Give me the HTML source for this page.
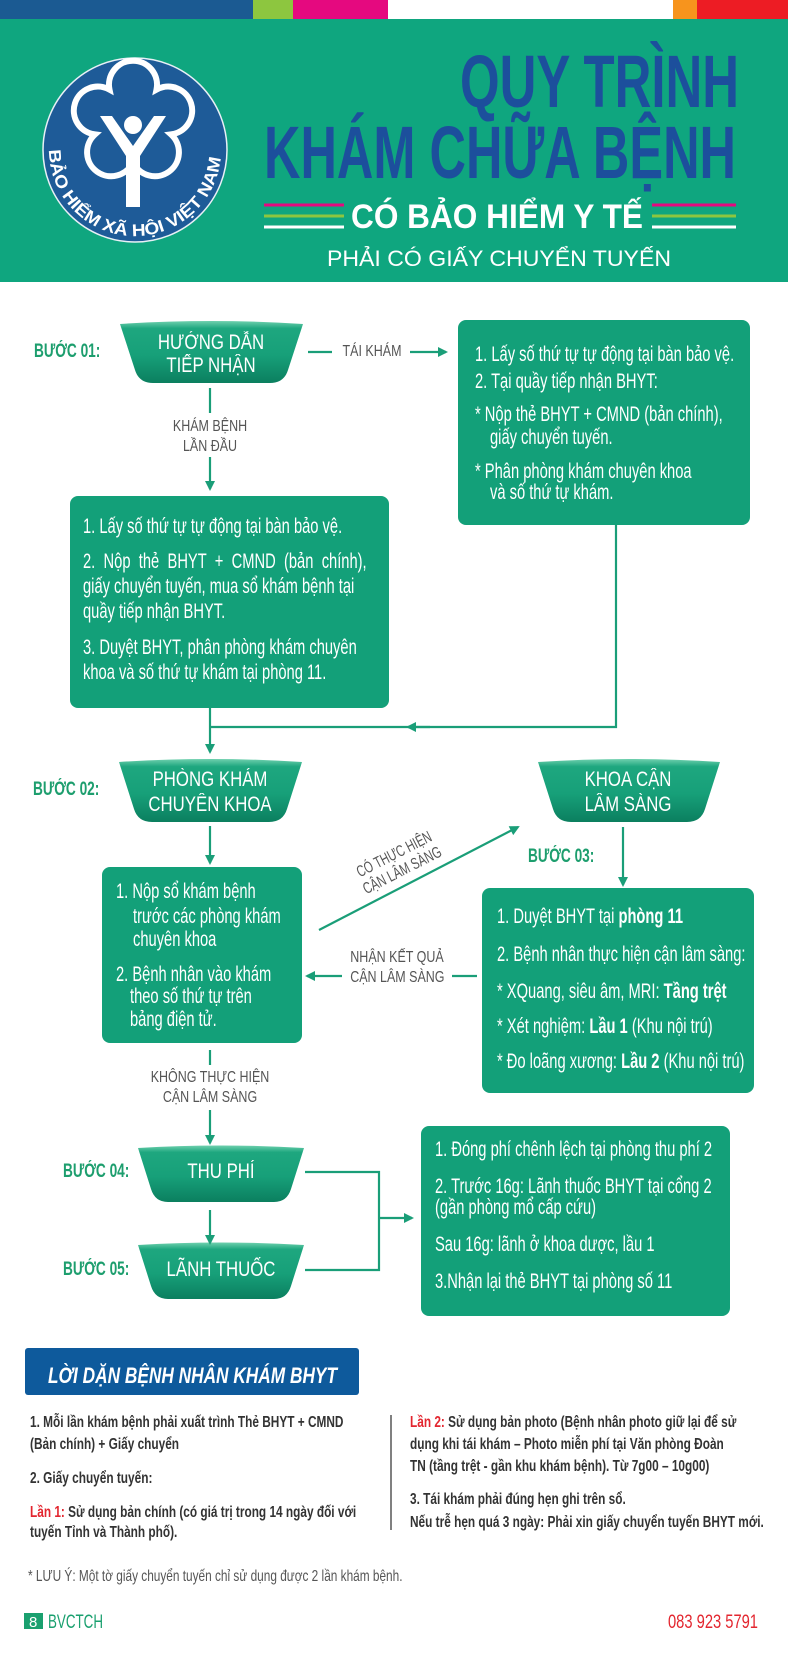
<!DOCTYPE html>
<html><head><meta charset="utf-8">
<style>
*{margin:0;padding:0;box-sizing:border-box}
body{width:788px;height:1654px;position:relative;background:#fff;overflow:hidden;font-family:"Liberation Sans","DejaVu Sans",sans-serif}
svg{position:absolute;left:0;top:0}
.t{position:absolute;white-space:nowrap;transform:scaleX(.7);transform-origin:0 50%;color:#fff;font-size:21px;line-height:20px}
.g{position:absolute;white-space:nowrap;transform:scaleX(.78);transform-origin:50% 50%;color:#555;font-size:16px;line-height:16px;text-align:center}
.s{position:absolute;white-space:nowrap;transform:scaleX(.72);transform-origin:0 50%;color:#1d9e6e;font-size:19px;font-weight:bold;line-height:20px}
.b{position:absolute;white-space:nowrap;transform:scaleX(.8);transform-origin:50% 50%;color:#fff;font-size:21px;line-height:22px;text-align:center}
.n{position:absolute;white-space:nowrap;transform:scaleX(.74);transform-origin:0 50%;color:#333;font-size:16px;font-weight:bold;line-height:18px}
.r{color:#e3262f}
</style></head><body>
<svg width="788" height="1654" viewBox="0 0 788 1654">
<defs>
<linearGradient id="bw" x1="0" y1="0" x2="0" y2="1">
<stop offset="0" stop-color="#6fd0ae"/><stop offset="0.12" stop-color="#1ea77f"/><stop offset="0.55" stop-color="#17a079"/><stop offset="1" stop-color="#0b7f5f"/>
</linearGradient>
<marker id="ah" markerWidth="10" markerHeight="10" refX="8" refY="5" orient="auto" markerUnits="userSpaceOnUse"><path d="M0,0 L10,5 L0,10 Z" fill="#1a9e78"/></marker>
</defs>
<rect x="0" y="0" width="253" height="19" fill="#1b5a92"/>
<rect x="253" y="0" width="40" height="19" fill="#8dc63f"/>
<rect x="293" y="0" width="95" height="19" fill="#e5097f"/>
<rect x="388" y="0" width="285" height="19" fill="#fff"/>
<rect x="673" y="0" width="24" height="19" fill="#f7941d"/>
<rect x="697" y="0" width="91" height="19" fill="#ed1c24"/>
<rect x="0" y="19" width="788" height="263" fill="#0fa67f"/>
<circle cx="135" cy="150" r="92" fill="#1e5b98" stroke="#e8f0f6" stroke-width="1.5"/>
<path d="M156.5,89.6 A24,24 0 1 1 171,134.4 A24,24 0 1 1 133,162 A24,24 0 1 1 95,134.4 A24,24 0 1 1 109.5,89.6 A24,24 0 1 1 156.5,89.6 Z" fill="none" stroke="#fff" stroke-width="6"/>
<circle cx="133" cy="125" r="9" fill="#fff"/>
<path d="M100,116 L112,116 L133,146 L154,116 L166,116 L140,156 L140,207 L126,207 L126,156 Z" fill="#fff"/>
<path id="arc" d="M49,150 A86,86 0 0 0 221,150" fill="none"/>
<text font-size="17" font-weight="bold" fill="#fff" font-family="Liberation Sans, sans-serif"><textPath href="#arc" textLength="262" lengthAdjust="spacingAndGlyphs">BẢO HIỂM XÃ HỘI VIỆT NAM</textPath></text>
<text x="460" y="107" font-size="74" font-weight="bold" fill="#1c4f9c" textLength="279" lengthAdjust="spacingAndGlyphs">QUY TRÌNH</text>
<text x="264" y="178" font-size="74" font-weight="bold" fill="#1c4f9c" textLength="472" lengthAdjust="spacingAndGlyphs">KHÁM CHỮA BỆNH</text>
<g stroke-width="3">
<line x1="264" y1="205" x2="344" y2="205" stroke="#e5097f"/><line x1="264" y1="216" x2="344" y2="216" stroke="#8dc63f"/><line x1="264" y1="227" x2="344" y2="227" stroke="#fff"/>
<line x1="652" y1="205" x2="736" y2="205" stroke="#e5097f"/><line x1="652" y1="216" x2="736" y2="216" stroke="#8dc63f"/><line x1="652" y1="227" x2="736" y2="227" stroke="#fff"/>
</g>
<text x="351" y="228" font-size="34" font-weight="bold" fill="#fff" textLength="292" lengthAdjust="spacingAndGlyphs">CÓ BẢO HIỂM Y TẾ</text>
<text x="327" y="266" font-size="22" fill="#fff" textLength="344" lengthAdjust="spacingAndGlyphs">PHẢI CÓ GIẤY CHUYỂN TUYẾN</text>

<g fill="url(#bw)">
<path d="M120,324 Q211,318 303,324 L288,370 Q284,383 270,383 L153,383 Q139,383 135,370 Z"/>
<path d="M119,762 Q210,756 302,762 L287,809 Q283,822 269,822 L152,822 Q138,822 134,809 Z"/>
<path d="M538,762 Q629,756 720,762 L705,809 Q701,822 687,822 L571,822 Q557,822 553,809 Z"/>
<path d="M138,1148 Q221,1143 304,1148 L291,1189 Q287,1202 274,1202 L168,1202 Q155,1202 151,1189 Z"/>
<path d="M138,1245 Q221,1240 304,1245 L291,1286 Q287,1299 274,1299 L168,1299 Q155,1299 151,1286 Z"/>
</g>
<g fill="#13a079">
<rect x="458" y="320" width="292" height="205" rx="8"/>
<rect x="70" y="496" width="319" height="212" rx="8"/>
<rect x="102" y="867" width="200" height="176" rx="8"/>
<rect x="482" y="888" width="272" height="205" rx="8"/>
<rect x="421" y="1126" width="309" height="190" rx="8"/>
</g>
<g stroke="#1a9e78" stroke-width="2.2" fill="none">
<line x1="308" y1="352" x2="332" y2="352"/>
<line x1="410" y1="352" x2="446" y2="352" marker-end="url(#ah)"/>
<line x1="210" y1="388" x2="210" y2="413"/>
<line x1="210" y1="457" x2="210" y2="489" marker-end="url(#ah)"/>
<line x1="210" y1="708" x2="210" y2="752" marker-end="url(#ah)"/>
<polyline points="616,525 616,727 210,727"/>
<line x1="430" y1="727" x2="408" y2="727" marker-end="url(#ah)"/>
<line x1="210" y1="826" x2="210" y2="863" marker-end="url(#ah)"/>
<line x1="319" y1="930" x2="518" y2="827" marker-end="url(#ah)"/>
<line x1="623" y1="827" x2="623" y2="885" marker-end="url(#ah)"/>
<line x1="477" y1="976" x2="452" y2="976"/>
<line x1="342" y1="976" x2="307" y2="976" marker-end="url(#ah)"/>
<line x1="210" y1="1050" x2="210" y2="1065"/>
<line x1="210" y1="1110" x2="210" y2="1143" marker-end="url(#ah)"/>
<line x1="210" y1="1210" x2="210" y2="1243" marker-end="url(#ah)"/>
<polyline points="305,1172 379,1172 379,1270 305,1270"/>
<line x1="379" y1="1218" x2="412" y2="1218" marker-end="url(#ah)"/>
</g>
<g transform="rotate(-27 400 866)" fill="#555" font-size="16" text-anchor="middle">
<text x="400" y="858" textLength="82" lengthAdjust="spacingAndGlyphs">CÓ THỰC HIỆN</text>
<text x="400" y="876" textLength="86" lengthAdjust="spacingAndGlyphs">CẬN LÂM SÀNG</text>
</g>
<rect x="25" y="1348" width="334" height="47" rx="3" fill="#0e5a9c"/>
<text x="48" y="1383" font-size="22" font-weight="bold" font-style="italic" fill="#fff" textLength="289" lengthAdjust="spacingAndGlyphs">LỜI DẶN  BỆNH NHÂN KHÁM BHYT</text>
<line x1="391" y1="1415" x2="391" y2="1530" stroke="#555" stroke-width="1.5"/>
<rect x="24" y="1613" width="19" height="16" fill="#1aa06f"/>
<text x="29" y="1627" font-size="15" fill="#fff">8</text>
<text x="48" y="1628" font-size="19" fill="#1aa06f" textLength="55" lengthAdjust="spacingAndGlyphs">BVCTCH</text>
<text x="668" y="1628" font-size="19" fill="#e3262f" textLength="90" lengthAdjust="spacingAndGlyphs">083 923 5791</text>
</svg>

<div class="s" style="left:34px;top:342px">BƯỚC 01:</div>
<div class="s" style="left:33px;top:780px">BƯỚC 02:</div>
<div class="s" style="left:528px;top:847px">BƯỚC 03:</div>
<div class="s" style="left:63px;top:1162px">BƯỚC 04:</div>
<div class="s" style="left:63px;top:1260px">BƯỚC 05:</div>

<div class="b" style="left:131px;width:160px;top:332px">HƯỚNG DẪN</div>
<div class="b" style="left:131px;width:160px;top:355px">TIẾP NHẬN</div>
<div class="b" style="left:130px;width:160px;top:769px">PHÒNG KHÁM</div>
<div class="b" style="left:130px;width:160px;top:794px">CHUYÊN KHOA</div>
<div class="b" style="left:548px;width:160px;top:769px">KHOA CẬN</div>
<div class="b" style="left:548px;width:160px;top:794px">LÂM SÀNG</div>
<div class="b" style="left:141px;width:160px;top:1161px">THU PHÍ</div>
<div class="b" style="left:141px;width:160px;top:1259px">LÃNH THUỐC</div>

<div class="g" style="left:322px;width:100px;top:344px">TÁI KHÁM</div>
<div class="g" style="left:150px;width:120px;top:419px">KHÁM BỆNH</div>
<div class="g" style="left:150px;width:120px;top:439px">LẦN ĐẦU</div>
<div class="g" style="left:337px;width:120px;top:950px">NHẬN KẾT QUẢ</div>
<div class="g" style="left:337px;width:120px;top:970px">CẬN LÂM SÀNG</div>
<div class="g" style="left:130px;width:160px;top:1070px">KHÔNG THỰC HIỆN</div>
<div class="g" style="left:130px;width:160px;top:1090px">CẬN LÂM SÀNG</div>

<div class="t" style="left:475px;top:345px">1. Lấy số thứ tự tự động tại bàn bảo vệ.</div>
<div class="t" style="left:475px;top:372px">2. Tại quầy tiếp nhận BHYT:</div>
<div class="t" style="left:475px;top:405px">* Nộp thẻ BHYT + CMND (bản chính),</div>
<div class="t" style="left:490px;top:428px">giấy chuyển tuyến.</div>
<div class="t" style="left:475px;top:462px">* Phân phòng khám chuyên khoa</div>
<div class="t" style="left:490px;top:483px">và số thứ tự khám.</div>

<div class="t" style="left:83px;top:517px">1. Lấy số thứ tự tự động tại bàn bảo vệ.</div>
<div class="t" style="left:83px;top:552px;word-spacing:6px">2. Nộp thẻ BHYT + CMND (bản chính),</div>
<div class="t" style="left:83px;top:577px">giấy chuyển tuyến, mua sổ khám bệnh tại</div>
<div class="t" style="left:83px;top:602px">quầy tiếp nhận BHYT.</div>
<div class="t" style="left:83px;top:638px">3. Duyệt BHYT, phân phòng khám chuyên</div>
<div class="t" style="left:83px;top:663px">khoa và số thứ tự khám tại phòng 11.</div>

<div class="t" style="left:116px;top:882px">1. Nộp sổ khám bệnh</div>
<div class="t" style="left:133px;top:907px">trước các phòng khám</div>
<div class="t" style="left:133px;top:930px">chuyên khoa</div>
<div class="t" style="left:116px;top:965px">2. Bệnh nhân vào khám</div>
<div class="t" style="left:130px;top:987px">theo số thứ tự trên</div>
<div class="t" style="left:130px;top:1010px">bảng điện tử.</div>

<div class="t" style="left:497px;top:907px">1. Duyệt BHYT tại <b>phòng 11</b></div>
<div class="t" style="left:497px;top:945px">2. Bệnh nhân thực hiện cận lâm sàng:</div>
<div class="t" style="left:497px;top:982px">* XQuang, siêu âm, MRI: <b>Tầng trệt</b></div>
<div class="t" style="left:497px;top:1017px">* Xét nghiệm: <b>Lầu 1</b> (Khu nội trú)</div>
<div class="t" style="left:497px;top:1052px">* Đo loãng xương: <b>Lầu 2</b> (Khu nội trú)</div>

<div class="t" style="left:435px;top:1140px">1. Đóng phí chênh lệch tại phòng thu phí 2</div>
<div class="t" style="left:435px;top:1177px">2. Trước 16g: Lãnh thuốc BHYT tại cổng 2</div>
<div class="t" style="left:435px;top:1198px">(gần phòng mổ cấp cứu)</div>
<div class="t" style="left:435px;top:1235px">Sau 16g: lãnh ở khoa dược, lầu 1</div>
<div class="t" style="left:435px;top:1272px">3.Nhận lại thẻ BHYT tại phòng số 11</div>

<div class="n" style="left:30px;top:1414px">1. Mỗi lần khám bệnh phải xuất trình Thẻ BHYT + CMND</div>
<div class="n" style="left:30px;top:1436px">(Bản chính) + Giấy chuyển</div>
<div class="n" style="left:30px;top:1470px">2. Giấy chuyển tuyến:</div>
<div class="n" style="left:30px;top:1504px"><span class="r">Lần 1:</span> Sử dụng bản chính (có giá trị trong 14 ngày đối với</div>
<div class="n" style="left:30px;top:1524px">tuyến Tỉnh và Thành phố).</div>
<div class="n" style="left:410px;top:1414px"><span class="r">Lần 2:</span> Sử dụng bản photo (Bệnh nhân photo giữ lại để sử</div>
<div class="n" style="left:410px;top:1436px">dụng khi tái khám – Photo miễn phí tại Văn phòng Đoàn</div>
<div class="n" style="left:410px;top:1458px">TN (tầng trệt - gần khu khám bệnh). Từ 7g00 – 10g00)</div>
<div class="n" style="left:410px;top:1491px">3. Tái khám phải đúng hẹn ghi trên sổ.</div>
<div class="n" style="left:410px;top:1514px">Nếu trễ hẹn quá 3 ngày: Phải xin giấy chuyển tuyến BHYT mới.</div>
<div class="n" style="left:28px;top:1568px;font-weight:normal;color:#555">*  LƯU Ý: Một tờ giấy chuyển tuyến chỉ sử dụng được 2 lần khám bệnh.</div>
</body></html>
